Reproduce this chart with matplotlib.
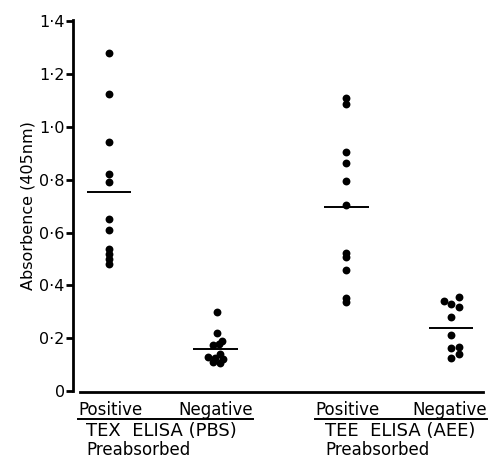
import matplotlib
matplotlib.use("Agg")
import matplotlib.pyplot as plt

# absorbance readings per group
tex_pos = [1.281, 1.123, 0.943, 0.822, 0.792, 0.653, 0.609, 0.537, 0.518, 0.499, 0.480]
tex_neg = [0.300, 0.218, 0.190, 0.178, 0.174, 0.140, 0.130, 0.125, 0.120, 0.110, 0.105]
tee_pos = [1.111, 1.086, 0.905, 0.864, 0.796, 0.704, 0.523, 0.508, 0.458, 0.351, 0.338]
tee_neg = [0.355, 0.342, 0.329, 0.319, 0.279, 0.212, 0.168, 0.162, 0.140, 0.124]
means = [0.752, 0.158, 0.695, 0.237]

yticks = [0, 0.2, 0.4, 0.6, 0.8, 1.0, 1.2, 1.4]
ytick_labels = ["0", "0·2", "0·4", "0·6", "0·8", "1·0", "1·2", "1·4"]

# horizontal scatter of the dots inside each column
tex_neg_jit = [0.01, 0.01, 0.06, 0.03, -0.02, 0.04, -0.07, 0.0, 0.07, -0.02, 0.04]
tee_neg_jit = [0.07, -0.07, 0.0, 0.07, 0.0, 0.0, 0.07, 0.0, 0.07, 0.0]

groups = [tex_pos, tex_neg, tee_pos, tee_neg]
jitters = [[0] * len(tex_pos), tex_neg_jit, [0] * len(tee_pos), tee_neg_jit]
xpos = [0, 1.005, 2.24, 3.23]

W, H = 494, 458
fig = plt.figure(figsize=(W / 100, H / 100), dpi=100)
ax = fig.add_axes([73 / W, 1 - 391 / H, (484 - 73) / W, (391 - 20) / H])

for x0, vals, jit in zip(xpos, groups, jitters):
    ax.scatter([x0 + j for j in jit], vals, s=32, color="black", zorder=3, linewidths=0)
for x0, m in zip(xpos, means):
    ax.hlines(m, x0 - 0.21, x0 + 0.21, color="black", linewidth=1.4)

ax.set_xlim(-0.34, 3.54)
ax.set_ylim(0, 1.405)
ax.set_yticks(yticks)
ax.set_yticklabels(ytick_labels, fontsize=11.5)
ax.set_xticks([])
ax.set_ylabel("Absorbence (405nm)", fontsize=11.5, labelpad=3)

for s in ["top", "right"]:
    ax.spines[s].set_visible(False)
ax.spines["left"].set_linewidth(2)
ax.spines["bottom"].set_linewidth(2)
ax.spines["bottom"].set_bounds(-0.27, 3.53)
ax.spines["bottom"].set_position(("outward", 1))
ax.tick_params(axis="y", length=5, width=2, pad=1)


def fx(px):
    return px / W


def fy(py):
    return 1 - py / H


fs = 12
fs2 = 13
fig.text(fx(78), fy(415), "Positive", fontsize=fs, va="baseline", ha="left")
fig.text(fx(253), fy(415), "Negative", fontsize=fs, va="baseline", ha="right")
fig.text(fx(315), fy(415), "Positive", fontsize=fs, va="baseline", ha="left")
fig.text(fx(487), fy(415), "Negative", fontsize=fs, va="baseline", ha="right")
fig.add_artist(plt.Line2D([fx(78), fx(253)], [fy(418.5)] * 2, color="black", lw=1.4))
fig.add_artist(plt.Line2D([fx(315), fx(487)], [fy(418.5)] * 2, color="black", lw=1.4))
fig.text(fx(86), fy(436), "TEX  ELISA (PBS)", fontsize=fs2, va="baseline", ha="left")
fig.text(fx(325), fy(436), "TEE  ELISA (AEE)", fontsize=fs2, va="baseline", ha="left")
fig.text(fx(86), fy(455), "Preabsorbed", fontsize=fs, va="baseline", ha="left")
fig.text(fx(325), fy(455), "Preabsorbed", fontsize=fs, va="baseline", ha="left")

fig.savefig("out.png", dpi=100)
